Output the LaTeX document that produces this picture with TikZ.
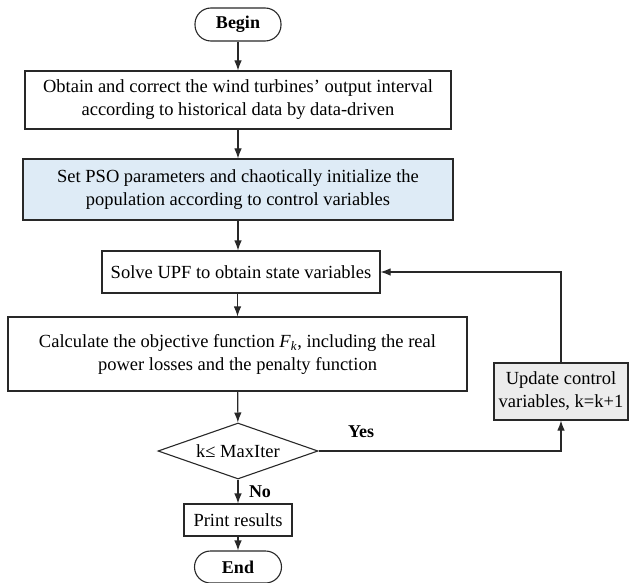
\documentclass[tikz,border=0pt]{standalone}
\usepackage{fontspec}
\setmainfont{Liberation Serif}
\usetikzlibrary{arrows.meta,shapes.geometric}
\definecolor{bluefill}{RGB}{222,235,246}
\definecolor{greyfill}{RGB}{236,236,236}
\definecolor{edge}{RGB}{40,40,40}
\tikzset{
  base/.style={draw=edge, line width=1.1pt, align=center, inner sep=2pt,
    font=\fontsize{18.5}{23}\selectfont},
  procbox/.style={base, rectangle},
  termbox/.style={base, rectangle, rounded corners=16pt, font=\fontsize{18}{23}\selectfont\bfseries},
  decbox/.style={base, diamond, aspect=2.86},
  conn/.style={draw=edge, line width=1.1pt, -{Latex[length=10pt,width=7.5pt]}},
  lbl/.style={font=\fontsize{18}{20}\selectfont\bfseries}
}
\begin{document}
\begin{tikzpicture}[x=1pt,y=-1pt]
\useasboundingbox (0,0) rectangle (629,583);
\node[termbox, minimum width=86pt, minimum height=33pt] (begin) at (238,24.5) {Begin};
\node[procbox, minimum width=426pt, minimum height=58pt] (obtain) at (238,100)
  {Obtain and correct the wind turbines’ output interval\\according to historical data by data-driven};
\node[procbox, fill=bluefill, minimum width=430pt, minimum height=61pt] (pso) at (238,189.5)
  {Set PSO parameters and chaotically initialize the\\population according to control variables};
\node[procbox, minimum width=278pt, minimum height=42pt] (upf) at (241,272)
  {Solve UPF to obtain state variables};
\node[procbox, minimum width=459pt, minimum height=74pt] (calc) at (237.5,354)
  {Calculate the objective function \textit{F}\textsubscript{\textit{k}}, including the real\\power losses and the penalty function};
\node[decbox, minimum width=160pt, minimum height=56pt, inner sep=0pt] (dec) at (238,451) {k≤ MaxIter};
\node[procbox, minimum width=108pt, minimum height=32pt] (print) at (238,520) {Print results};
\node[termbox, minimum width=87pt, minimum height=32pt] (end) at (238,567) {End};
\node[procbox, fill=greyfill, minimum width=134pt, minimum height=57pt] (upd) at (561,391.5)
  {Update control\\variables, k=k+1};
\draw[conn] (begin) -- (obtain);
\draw[conn] (obtain) -- (pso);
\draw[conn] (pso.south) -- (pso.south |- upf.north);
\draw[conn] (calc.north |- upf.south) -- (calc.north);
\draw[conn] (calc) -- (dec);
\draw[conn] (dec) -- (print);
\draw[conn] (print) -- (end);
\draw[conn] (dec.east) -| (upd.south);
\draw[conn] (upd.north) |- (upf.east);
\node[lbl] (yes) at (361,432) {Yes};
\node[lbl] (no) at (260,492) {No};
\end{tikzpicture}
\end{document}
